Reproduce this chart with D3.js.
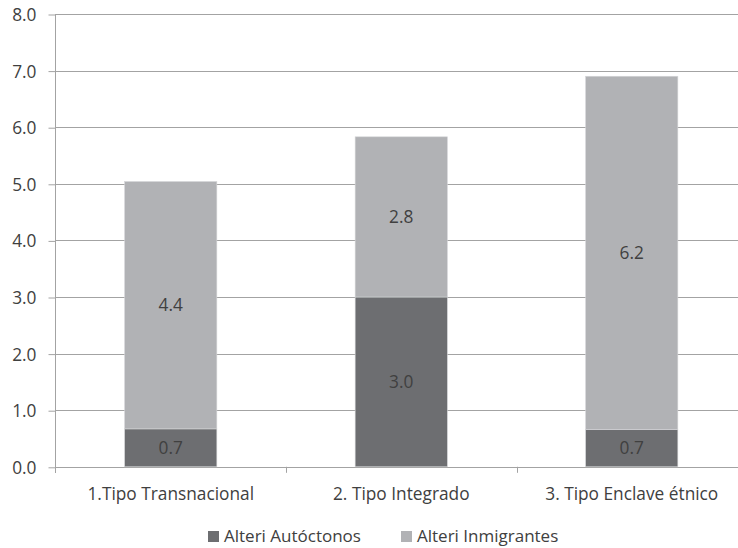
<!DOCTYPE html>
<html>
<head>
<meta charset="utf-8">
<script src="https://cdn.jsdelivr.net/npm/d3@7"></script>
<style>
  html, body { margin: 0; padding: 0; background: #fff; }
  svg { display: block; }
  text { font-family: "Open Sans", Lato, sans-serif; fill: #404040; }
</style>
</head>
<body>
<svg id="chart" width="738" height="548"></svg>
<script>
const categories = ["1.Tipo Transnacional", "2. Tipo Integrado", "3. Tipo Enclave étnico"];
const seriesNames = ["Alteri Autóctonos", "Alteri Inmigrantes"];
const autoctonos = [0.67, 3.0, 0.66];
const inmigrantes = [4.37, 2.83, 6.24];
const yTicks = [0, 1, 2, 3, 4, 5, 6, 7, 8];
const colors = ["#6d6e71", "#b1b2b5"];

const FS = "17.3px";
const svg = d3.select("#chart");
const x = d3.scaleBand().domain(categories).range([55.5, 747]).paddingInner(0.6).paddingOuter(0.3);
const y = d3.scaleLinear().domain([0, 8]).range([466.8, 14]);

// gridlines
svg.append("g").selectAll("line").data(yTicks.filter(d => d > 0)).join("line")
  .attr("x1", 55.5).attr("x2", 747)
  .attr("y1", d => Math.round(y(d)) + 0.5).attr("y2", d => Math.round(y(d)) + 0.5)
  .attr("stroke", "#a3a3a3").attr("stroke-width", 1);

// y axis
const yAxis = d3.axisLeft(y).tickValues(yTicks).tickFormat(d3.format(".1f")).tickSize(7).tickPadding(12);
const gy = svg.append("g").attr("transform", "translate(55.5,0.5)").call(yAxis);
gy.select(".domain").remove();
gy.selectAll(".tick line").attr("stroke", "#a3a3a3");
gy.selectAll(".tick text").style("font-size", FS).attr("fill", "#404040").attr("dy", "0.35em");
svg.append("line").attr("x1", 55.5).attr("x2", 55.5).attr("y1", 14).attr("y2", 473)
  .attr("stroke", "#a3a3a3");

// x axis
const xAxis = d3.axisBottom(x).tickSize(0).tickPadding(20);
const gx = svg.append("g").attr("transform", "translate(0," + (Math.round(y(0)) + 0.5) + ")").call(xAxis);
gx.select(".domain").attr("stroke", "#a3a3a3").attr("d", "M55.5,0H747");
gx.selectAll(".tick text").style("font-size", FS).attr("fill", "#404040");
const bounds = [x.step() * 1 + 55.5, x.step() * 2 + 55.5];
svg.append("g").selectAll("line").data(bounds).join("line")
  .attr("x1", d => Math.round(d) + 0.5).attr("x2", d => Math.round(d) + 0.5)
  .attr("y1", y(0)).attr("y2", y(0) + 6)
  .attr("stroke", "#a3a3a3");

// stacked bars
const rows = categories.map((c, i) => ({cat: c, a: autoctonos[i], b: inmigrantes[i]}));
const stack = d3.stack().keys(["a", "b"])(rows);
const g = svg.append("g");
stack.forEach((layer, li) => {
  g.selectAll(null).data(layer).join("rect")
    .attr("x", d => x(d.data.cat))
    .attr("width", x.bandwidth())
    .attr("y", d => y(d[1]))
    .attr("height", d => y(d[0]) - y(d[1]))
    .attr("fill", colors[li])
    .attr("stroke", "#d4d5d7").attr("stroke-width", 0.6);
  g.selectAll(null).data(layer).join("text")
    .attr("x", d => x(d.data.cat) + x.bandwidth() / 2)
    .attr("y", d => (y(d[0]) + y(d[1])) / 2)
    .attr("dy", "0.35em")
    .attr("text-anchor", "middle")
    .style("font-size", FS)
    .attr("fill", "#404040")
    .text(d => d3.format(".1f")(d[1] - d[0]));
});

// legend
const legendX = [208, 401];
const lg = svg.append("g");
seriesNames.forEach((n, i) => {
  lg.append("rect").attr("x", legendX[i]).attr("y", 531).attr("width", 11).attr("height", 11).attr("fill", colors[i]);
  lg.append("text").attr("x", legendX[i] + 16).attr("y", 536).attr("dy", "0.35em")
    .style("font-size", "17px").text(n);
});
</script>
</body>
</html>
